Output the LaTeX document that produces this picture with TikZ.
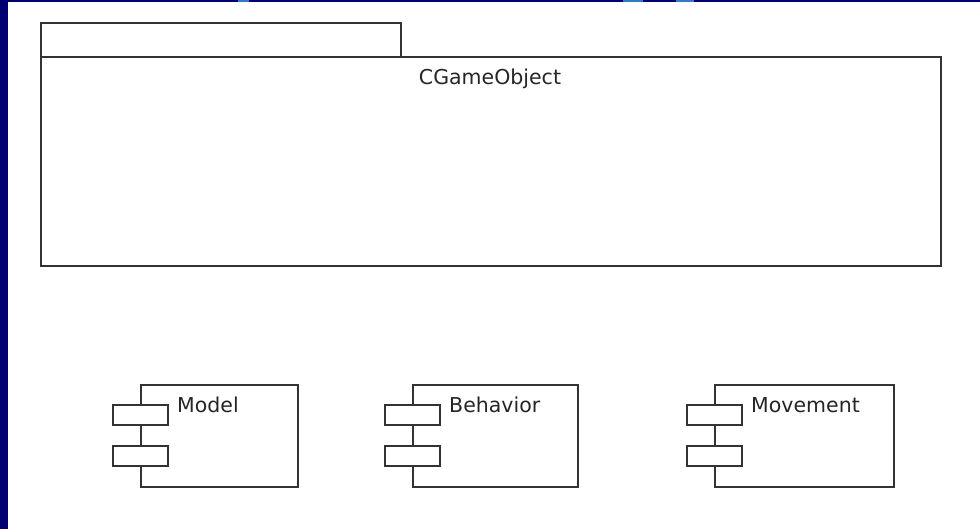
\documentclass[tikz,border=0pt]{standalone}
\usepackage{fontspec}
\setmainfont{DejaVu Sans}
\definecolor{frameblue}{RGB}{0,0,112}
\definecolor{lightblue}{RGB}{52,122,190}
\begin{document}
\begin{tikzpicture}[x=1pt,y=-1pt,
  umlline/.style={draw=black!80, line width=1.8pt},
  box/.style={umlline, fill=white, inner sep=0pt, anchor=north west},
  port/.style={box, minimum width=55pt, minimum height=20pt},
  lbl/.style={font=\fontsize{20.5}{24}\selectfont, text=black!85, inner sep=0pt}]

\useasboundingbox (0,0) rectangle (980,529);
\fill[white] (0,0) rectangle (980,529);
\fill[frameblue] (0,0) rectangle (8,529);
\fill[frameblue] (0,0) rectangle (980,2.5);
\foreach \a/\b in {238/249, 623/643, 676/694}
  \fill[lightblue] (\a,0) rectangle (\b,2.5);

% package
\node[box, minimum width=360pt, minimum height=34pt] (tab) at (40,22) {};
\node[box, minimum width=900pt, minimum height=209pt] (gameobj) at (40,56) {};
\node[lbl, anchor=base] (gameobjname) at (490,85) {CGameObject};

% components
\foreach \name/\txt/\xl/\w in {model/Model/140/157, behavior/Behavior/412/165, movement/Movement/714/179} {
  \node[box, minimum width=\w pt, minimum height=102pt] (\name) at (\xl,384) {};
  \node[port] (\name-p1) at (\xl-28,404) {};
  \node[port] (\name-p2) at (\xl-28,445) {};
  \node[lbl, anchor=base west] (\name-txt) at (\xl+37,412) {\txt};
}
\end{tikzpicture}
\end{document}
